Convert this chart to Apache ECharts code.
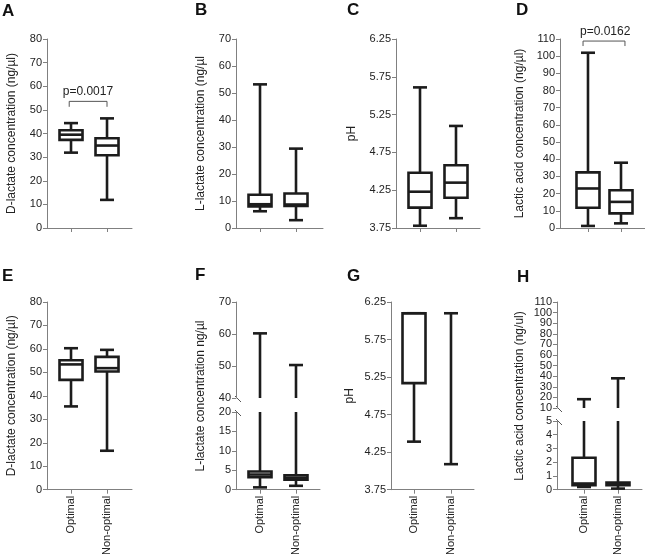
<!DOCTYPE html>
<html><head><meta charset="utf-8">
<script src="https://cdn.jsdelivr.net/npm/echarts@6/dist/echarts.min.js"></script>
<style>html,body{margin:0;padding:0;background:#fff}#c{width:645px;height:558px}</style>
</head><body><div id="c"></div>
<script>
// ---------- data ----------
const groups = ['Optimal', 'Non-optimal'];
// each box: [min, Q1, median, Q3, max]
const dLactateA = [[31.9, 37.3, 39.5, 41.4, 44.4], [11.9, 30.8, 34.9, 38.0, 46.4]];
const lLactateB = [[6.2, 8.0, 8.8, 12.3, 53.2], [2.9, 8.2, 8.7, 12.8, 29.4]];
const pHC       = [[3.78, 4.02, 4.23, 4.48, 5.61], [3.88, 4.15, 4.35, 4.58, 5.10]];
const lacticD   = [[1.2, 11.8, 23.0, 32.4, 102.0], [2.7, 8.5, 15.2, 22.0, 38.0]];
const dLactateE = [[35.5, 46.8, 53.4, 55.2, 60.3], [16.6, 50.4, 51.8, 56.6, 59.6]];
const lLactateF = [[0.6, 3.2, 3.9, 4.7, 60.2], [1.0, 2.6, 3.1, 3.7, 50.3]];
const pHG       = [[4.39, 5.17, 6.10, 6.10, 6.10], [4.09, 6.10, 6.10, 6.10, 6.10]];
const lacticH   = [[0.2, 0.32, 0.45, 2.32, 18.3], [0.08, 0.32, 0.43, 0.52, 38.0]];
// significance brackets: [xStart, xEnd, yLow, yHigh, xText, yText]
const bracketA = [-0.05, 1.0, 51.3, 53.6, 0.47, 57.8];
const bracketD = [-0.15, 1.12, 105.9, 108.8, 0.52, 114.0];
const pValueA = 'p=0.0017';
const pValueD = 'p=0.0162';
const pHTicks = [3.75, 4.25, 4.75, 5.25, 5.75, 6.25];
const hUpperTicks = [10, 20, 30, 40, 50, 60, 70, 80, 90, 100, 110];
const hUpperLabelsOdd = [10, 30, 50, 70, 90, 110];
const hUpperLabelsEven = [20, 40, 60, 80, 100];
const yNames = {
  A: 'D-lactate concentration (ng/µl)', B: 'L-lactate concentration (ng/µl',
  C: 'pH', D: 'Lactic acid concentration (ng/µl)',
  E: 'D-lactate concentration (ng/µl)', F: 'L-lactate concentration ng/µl',
  G: 'pH', H: 'Lactic acid concentration (ng/ul)'
};

// ---------- style ----------
const FONT = '"Liberation Sans", Arial, Helvetica, sans-serif';
const AX = '#808080', INK = '#1c1c1c', TXT = '#222';
const BOX_W = 23, CAP_W = 14, LW = 2.6;

const option = { animation: false, backgroundColor: '#fff', grid: [], xAxis: [], yAxis: [], series: [], graphic: [] };

function boxRender(lo, hi) {
  return function (params, api) {
    const x = api.value(0);
    const mn = api.value(1), q1 = api.value(2), md = api.value(3), q3 = api.value(4), mx = api.value(5);
    const cx = api.coord([x, lo])[0];
    const Y = t => api.coord([x, Math.max(lo, Math.min(hi, t))])[1];
    const inR = t => t >= lo && t <= hi;
    const st = { stroke: INK, lineWidth: LW, fill: null };
    const ch = [];
    const seg = (a, b) => {
      const ya = Y(a), yb = Y(b);
      if (Math.abs(ya - yb) > 0.5) ch.push({ type: 'line', shape: { x1: cx, y1: ya, x2: cx, y2: yb }, style: st });
    };
    const hline = (t, w) => ch.push({ type: 'line', shape: { x1: cx - w / 2, y1: Y(t), x2: cx + w / 2, y2: Y(t) }, style: st });
    seg(mn, q1); seg(q3, mx);
    if (inR(mn)) hline(mn, CAP_W);
    if (inR(mx)) hline(mx, CAP_W);
    if (q3 > q1 && q3 >= lo && q1 <= hi) {
      const yt = Y(q3), yb = Y(q1);
      ch.push({ type: 'rect', shape: { x: cx - BOX_W / 2, y: yt, width: BOX_W, height: yb - yt }, style: { stroke: INK, lineWidth: LW, fill: '#fff' } });
      if (inR(md)) hline(md, BOX_W);
    }
    return { type: 'group', children: ch };
  };
}

function bracketRender(label) {
  return function (params, api) {
    const x0 = api.value(0), x1 = api.value(1), yl = api.value(2), yh = api.value(3);
    const t = api.coord([api.value(4), api.value(5)]);
    const pts = [api.coord([x0, yl]), api.coord([x0, yh]), api.coord([x1, yh]), api.coord([x1, yl])];
    return { type: 'group', children: [
      { type: 'polyline', shape: { points: pts }, style: { stroke: '#555', lineWidth: 1, fill: null } },
      { type: 'text', style: { text: label, x: t[0], y: t[1], align: 'center', verticalAlign: 'middle', font: '12px ' + FONT, fill: TXT } }
    ] };
  };
}

function yLabelStyle(fmt) {
  return { fontSize: 11, color: TXT, fontFamily: FONT, margin: 5, showMinLabel: true, showMaxLabel: true,
    hideOverlap: false, formatter: fmt || (v => String(v)) };
}

function addPanel(p) {
  const multi = p.segs.length > 1;
  p.segs.forEach((s, si) => {
    const g = option.grid.length;
    option.grid.push({ left: p.left, top: s.top, width: p.w, height: s.h });
    const isBottom = si === p.segs.length - 1;
    option.xAxis.push({
      gridIndex: g, type: 'value', min: p.xr[0], max: p.xr[1], show: isBottom,
      axisLine: { show: true, onZero: false, lineStyle: { color: AX, width: 1 } },
      axisTick: { show: true, customValues: [0, 1], length: 4, lineStyle: { color: AX, width: 1 } },
      axisLabel: { show: p.labels, customValues: [0, 1], rotate: 90, margin: 6,
        formatter: v => groups[Math.round(v)] || '', fontSize: 11, color: TXT, fontFamily: FONT },
      splitLine: { show: false }
    });
    const yi = option.yAxis.length;
    const yax = {
      gridIndex: g, type: 'value', min: s.min, max: s.max, position: 'left',
      axisLine: { show: true, onZero: false, lineStyle: { color: AX, width: 1 } },
      axisTick: { show: true, length: 4, lineStyle: { color: AX, width: 1 } },
      axisLabel: yLabelStyle(s.fmt),
      splitLine: { show: false }
    };
    if (s.ticks) { yax.axisTick.customValues = s.ticks; yax.axisLabel.customValues = s.labels || s.ticks; }
    else yax.interval = s.interval;
    if (!multi) {
      Object.assign(yax, { name: p.name, nameLocation: 'middle', nameGap: p.gap, nameRotate: 90,
        nameTextStyle: { fontSize: 12, color: TXT, fontFamily: FONT } });
    }
    option.yAxis.push(yax);
    if (s.labels2) {
      const l2 = yLabelStyle(s.fmt);
      l2.customValues = s.labels2;
      option.yAxis.push({ gridIndex: g, type: 'value', min: s.min, max: s.max, position: 'left', offset: 0,
        axisLine: { show: false, onZero: false }, axisTick: { show: false }, axisLabel: l2, splitLine: { show: false } });
    }
    option.series.push({
      type: 'custom', xAxisIndex: g, yAxisIndex: yi, silent: true, clip: false,
      renderItem: boxRender(s.min, s.max),
      encode: { x: 0, y: [1, 2, 3, 4, 5] },
      data: p.data.map((d, i) => [i].concat(d))
    });
    if (p.bracket && si === 0) {
      option.series.push({
        type: 'custom', xAxisIndex: g, yAxisIndex: yi, silent: true, clip: false,
        renderItem: bracketRender(p.pval), data: [p.bracket]
      });
    }
  });
  if (multi) {
    const top = p.segs[0].top, last = p.segs[p.segs.length - 1];
    const g = option.grid.length;
    option.grid.push({ left: p.left, top: top, width: p.w, height: last.top + last.h - top });
    option.xAxis.push({ gridIndex: g, type: 'value', min: 0, max: 1, show: false });
    option.yAxis.push({ gridIndex: g, type: 'value', min: 0, max: 1,
      axisLine: { show: false }, axisTick: { show: false }, axisLabel: { show: false }, splitLine: { show: false },
      name: p.name, nameLocation: 'middle', nameGap: p.gap, nameRotate: 90,
      nameTextStyle: { fontSize: 12, color: TXT, fontFamily: FONT } });
    for (let i = 0; i < p.segs.length - 1; i++) {
      const yA = p.segs[i].top + p.segs[i].h, yB = p.segs[i + 1].top;
      [yA - 2, yB - 2].forEach(y => option.graphic.push({ type: 'line', silent: true,
        shape: { x1: p.left - 1, y1: y, x2: p.left + 5, y2: y + 6 }, style: { stroke: '#555', lineWidth: 1 } }));
    }
  }
}

const pHfmt = v => v.toFixed(2);
addPanel({ left: 47, w: 85, xr: [-0.667, 1.694], labels: false, data: dLactateA, name: yNames.A, gap: 29,
  segs: [{ top: 39, h: 189, min: 0, max: 80, interval: 10 }], bracket: bracketA, pval: pValueA });
addPanel({ left: 236, w: 87, xr: [-0.667, 1.75], labels: false, data: lLactateB, name: yNames.B, gap: 29,
  segs: [{ top: 39, h: 189, min: 0, max: 70, interval: 10 }] });
addPanel({ left: 396, w: 84, xr: [-0.667, 1.667], labels: false, data: pHC, name: yNames.C, gap: 38,
  segs: [{ top: 39, h: 189, min: 3.75, max: 6.25, ticks: pHTicks, fmt: pHfmt }] });
addPanel({ left: 560, w: 85, xr: [-0.848, 1.727], labels: false, data: lacticD, name: yNames.D, gap: 34,
  segs: [{ top: 39, h: 189, min: 0, max: 110, interval: 10 }], bracket: bracketD, pval: pValueD });
addPanel({ left: 47, w: 85, xr: [-0.667, 1.694], labels: true, data: dLactateE, name: yNames.E, gap: 29,
  segs: [{ top: 302, h: 188, min: 0, max: 80, interval: 10 }] });
addPanel({ left: 236, w: 84, xr: [-0.667, 1.667], labels: true, data: lLactateF, name: yNames.F, gap: 29,
  segs: [{ top: 302, h: 96, min: 40, max: 70, interval: 10 }, { top: 412, h: 78, min: 0, max: 20, interval: 5 }] });
addPanel({ left: 391, w: 83, xr: [-0.622, 1.622], labels: true, data: pHG, name: yNames.G, gap: 35,
  segs: [{ top: 302, h: 188, min: 3.75, max: 6.25, ticks: pHTicks, fmt: pHfmt }] });
addPanel({ left: 557, w: 85, xr: [-0.794, 1.706], labels: true, data: lacticH, name: yNames.H, gap: 31,
  segs: [{ top: 302, h: 106, min: 10, max: 110, ticks: hUpperTicks, labels: hUpperLabelsOdd, labels2: hUpperLabelsEven },
         { top: 421, h: 69, min: 0, max: 5, interval: 1 }] });

// panel letters
[['A', 2, 11.3], ['B', 195, 10.8], ['C', 347, 10.8], ['D', 516, 10.8],
 ['E', 2, 276.3], ['F', 195, 275.5], ['G', 347, 276.5], ['H', 517, 277]].forEach(([t, x, y]) => {
  option.graphic.push({ type: 'text', silent: true, style: { text: t, x: x, y: y, align: 'left', verticalAlign: 'middle',
    font: 'bold 17px ' + FONT, fill: '#111' } });
});

const chart = echarts.init(document.getElementById('c'), null, { renderer: 'canvas' });
chart.setOption(option);
</script></body></html>
